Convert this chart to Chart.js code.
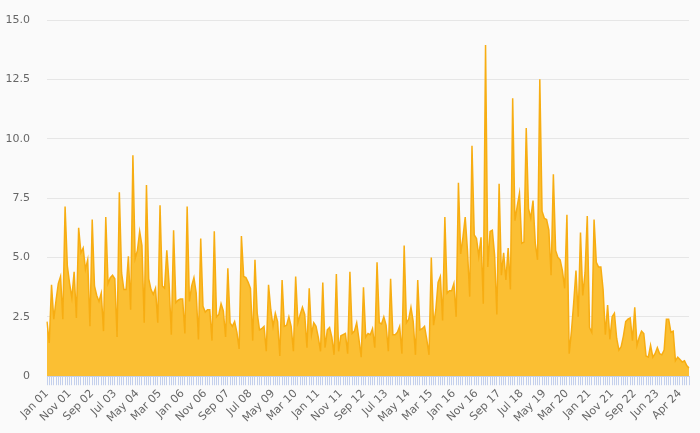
<!DOCTYPE html>
<html>
<head>
<meta charset="utf-8">
<script src="https://cdn.jsdelivr.net/npm/chart.js@4.4.1/dist/chart.umd.min.js"></script>
<style>
  html, body { margin: 0; padding: 0; background: #fafafa; }
  #wrap { width: 700px; height: 433px; }
</style>
</head>
<body>
<div id="wrap"><canvas id="chart"></canvas></div>
<script>
// monthly values, Jan 2001 onwards
const values = [
  2.3, 1.4, 3.85, 2.4, 3.2, 3.9, 4.2, 2.4, 7.15, 4.65,
  3.9, 3.3, 4.4, 2.45, 6.25, 5.2, 5.4, 4.5, 4.9, 2.1,
  6.6, 3.8, 3.4, 3.15, 3.5, 1.9, 6.7, 3.9, 4.15, 4.25,
  4.1, 1.65, 7.75, 4.35, 3.65, 3.65, 5.05, 2.8, 9.3, 4.95,
  5.3, 6.1, 5.5, 2.25, 8.05, 4.1, 3.65, 3.45, 3.7, 2.25,
  7.2, 3.8, 3.7, 5.3, 3.9, 1.75, 6.15, 3.1, 3.2, 3.25,
  3.25, 1.8, 7.15, 3.15, 3.8, 4.15, 3.5, 1.55, 5.8, 2.95,
  2.7, 2.8, 2.8, 1.5, 6.1, 2.5, 2.6, 3.05, 2.75, 1.65,
  4.55, 2.25, 2.1, 2.3, 1.85, 1.15, 5.9, 4.2, 4.15, 3.95,
  3.7, 1.5, 4.9, 2.65, 1.95, 2.0, 2.1, 1.05, 3.85, 2.8,
  2.1, 2.65, 2.3, 0.85, 4.05, 2.1, 2.15, 2.5, 2.1, 1.05,
  4.2, 2.25, 2.6, 2.9, 2.6, 1.2, 3.7, 1.75, 2.25, 2.1,
  1.65, 1.05, 3.95, 1.2, 1.95, 2.05, 1.65, 0.9, 4.3, 1.05,
  1.7, 1.75, 1.8, 0.95, 4.4, 1.8, 1.9, 2.25, 1.55, 0.8,
  3.75, 1.65, 1.8, 1.75, 2.0, 1.2, 4.8, 2.25, 2.2, 2.5,
  2.15, 1.05, 4.1, 1.75, 1.75, 1.85, 2.1, 0.95, 5.5, 2.25,
  2.4, 2.9, 2.3, 0.9, 4.05, 1.95, 2.0, 2.1, 1.55, 0.9,
  5.0, 2.15, 2.8, 3.95, 4.2, 2.35, 6.7, 3.5, 3.6, 3.6,
  3.9, 2.5, 8.15, 5.15, 5.85, 6.7, 5.3, 3.35, 9.7, 5.95,
  5.8, 5.05, 5.85, 3.05, 13.95, 4.6, 6.1, 6.15, 5.1, 2.6,
  8.1, 4.25, 5.2, 4.05, 5.4, 3.65, 11.7, 6.55, 7.15, 7.7,
  5.6, 5.65, 10.45, 7.05, 6.65, 7.4, 5.6, 4.9, 12.5, 6.95,
  6.65, 6.6, 6.15, 4.25, 8.5, 5.3, 5.0, 4.9, 4.45, 3.7,
  6.8, 0.95, 1.9, 3.1, 4.45, 2.5, 6.05, 3.4, 4.35, 6.75,
  2.05, 1.85, 6.6, 4.8, 4.6, 4.6, 3.65, 1.75, 3.0, 1.55,
  2.5, 2.65, 1.6, 1.1, 1.25, 1.7, 2.3, 2.4, 2.45, 1.5,
  2.9, 1.3, 1.65, 1.9, 1.8, 0.85, 0.8, 1.3, 0.8, 0.95,
  1.2, 0.95, 0.9, 1.1, 2.4, 2.4, 1.85, 1.9, 0.65, 0.8,
  0.7, 0.6, 0.65, 0.45, 0.35
];

const monthNames = ["Jan", "Feb", "Mar", "Apr", "May", "Jun", "Jul", "Aug", "Sep", "Oct", "Nov", "Dec"];
const yTicks = [0, 2.5, 5, 7.5, 10, 12.5, 15];

// category labels: one per month, the source repeats Feb 23 once
const labels = [];
for (let y = 2001; y <= 2024; y++) {
  monthNames.forEach((m, i) => {
    if (y === 2024 && i > 7) return;
    const lbl = `${m} ${String(y).slice(2)}`;
    labels.push(lbl);
    if (lbl === "Feb 23") labels.push(lbl);
  });
}

const ctx = document.getElementById("chart").getContext("2d");
new Chart(ctx, {
  type: "line",
  data: {
    labels,
    datasets: [{
      data: values,
      borderColor: "#f7ad12",
      backgroundColor: "#fbbf33",
      borderWidth: 1.5,
      pointRadius: 0,
      tension: 0,
      fill: "origin"
    }]
  },
  options: {
    responsive: true,
    maintainAspectRatio: false,
    animation: false,
    layout: { padding: { left: 4, right: 11, top: 20, bottom: 6 } },
    plugins: {
      legend: { display: false },
      tooltip: { enabled: false }
    },
    scales: {
      x: {
        offset: false,
        border: { color: "#c4d0ec" },
        grid: {
          drawOnChartArea: false,
          drawTicks: true,
          tickLength: 9,
          color: "#c4d0ec"
        },
        afterFit: axis => { axis.paddingLeft = 0; axis.paddingRight = 0; },
        ticks: {
          autoSkip: false,
          minRotation: 45,
          maxRotation: 45,
          padding: 2,
          color: "#666",
          font: { family: "DejaVu Sans", size: 11 },
          callback: (v, i) => (i % 10 === 0 && i <= 280) ? labels[i] : ""
        }
      },
      y: {
        min: 0,
        max: 15,
        border: { display: false },
        grid: { color: "#e6e6e6", drawTicks: false },
        afterBuildTicks: axis => { axis.ticks = yTicks.map(v => ({ value: v })); },
        afterFit: axis => { axis.width = 43; axis.paddingTop = 0; axis.paddingBottom = 0; },
        ticks: {
          padding: 17,
          color: "#666",
          font: { family: "DejaVu Sans", size: 11 },
          callback: v => v === 0 ? "0" : v.toFixed(1)
        }
      }
    }
  }
});
</script>
</body>
</html>
